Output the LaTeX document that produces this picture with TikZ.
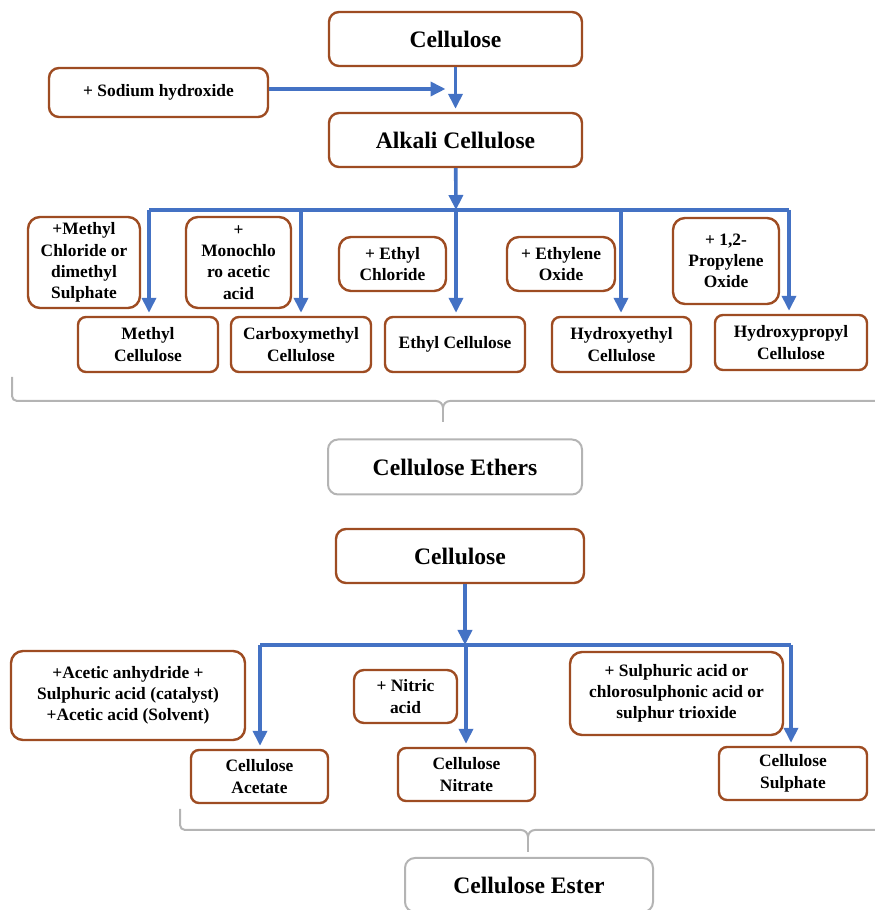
\documentclass[tikz,border=0pt]{standalone}
\usepackage{fontspec}
\setmainfont{Liberation Serif}
\usetikzlibrary{arrows.meta}
\definecolor{boxbrown}{RGB}{158,76,34}
\definecolor{flowblue}{RGB}{68,114,196}
\definecolor{bracegray}{RGB}{180,180,180}
\begin{document}
\begin{tikzpicture}[x=0.5pt,y=0.5pt,
  main/.style={draw=boxbrown,line width=1.2pt,rounded corners=5pt,fill=white,
    font=\fontsize{11.8}{14}\selectfont\bfseries,align=center,inner sep=1pt},
  reag/.style={draw=boxbrown,line width=1.2pt,rounded corners=6pt,fill=white,
    font=\fontsize{8.7}{10.6}\selectfont\bfseries,align=center,inner sep=1pt},
  prod/.style={draw=boxbrown,line width=1.2pt,rounded corners=4pt,fill=white,
    font=\fontsize{8.7}{10.8}\selectfont\bfseries,align=center,inner sep=1pt},
  group/.style={draw=bracegray,line width=1pt,rounded corners=5pt,fill=white,
    font=\fontsize{11.8}{14}\selectfont\bfseries,align=center,inner sep=1pt},
  flow/.style={draw=flowblue,line width=1.8pt,-{Triangle[width=7pt,length=7.5pt]}},
  bus/.style={draw=flowblue,line width=1.8pt},
  brace/.style={draw=bracegray,line width=1pt}]
\useasboundingbox (0,0) rectangle (874,910);
%\draw[help lines,step=50] (0,0) grid (874,910);
% ethers
\node[main,minimum width=126.5pt,minimum height=27pt] (cel1) at (455.5,871) {Cellulose};
\node[main,minimum width=109.5pt,minimum height=24.5pt,font=\fontsize{8.7}{10.6}\selectfont\bfseries] (naoh) at (158.5,817.5) {+ Sodium hydroxide};
\node[main,minimum width=126.5pt,minimum height=27pt] (alk) at (455.5,770) {Alkali Cellulose};
\draw[flow,shorten >=1.5pt] (cel1) -- (alk);
\draw[flow,shorten >=5pt] (naoh.east |- 0,821) -- (cel1.south |- 0,821);
\coordinate (b1) at (456,700);
\draw[flow] (alk) -- (b1);
\node[reag,minimum width=56pt,minimum height=45.5pt] (r1) at (84,647.5) {+Methyl\\Chloride or\\dimethyl\\Sulphate};
\node[reag,minimum width=52.5pt,minimum height=45.5pt] (r2) at (238.5,647.5) {+\\Monochlo\\ro acetic\\acid};
\node[reag,minimum width=53.5pt,minimum height=27pt] (r3) at (392.5,646) {+ Ethyl\\Chloride};
\node[reag,minimum width=54pt,minimum height=27pt] (r4) at (561,646) {+ Ethylene\\Oxide};
\node[reag,minimum width=53pt,minimum height=43pt] (r5) at (726,649) {+ 1,2-\\Propylene\\Oxide};
\node[prod,minimum width=70pt,minimum height=27.5pt] (p1) at (148,565.5) {Methyl\\Cellulose};
\node[prod,minimum width=70pt,minimum height=27.5pt] (p2) at (301,565.5) {Carboxymethyl\\Cellulose};
\node[prod,minimum width=70pt,minimum height=27.5pt] (p3) at (455,565.5) {Ethyl Cellulose};
\node[prod,minimum width=69.5pt,minimum height=27.5pt] (p4) at (621.5,565.5) {Hydroxyethyl\\Cellulose};
\node[prod,minimum width=76pt,minimum height=27.5pt] (p5) at (791,567.5) {Hydroxypropyl\\Cellulose};
\draw[bus] (149,700) -- (789,700);
\foreach \p/\x in {p1/149,p2/301,p3/456,p4/621,p5/789}
  \draw[flow,shorten >=1.5pt] (\x,700) -- (\p.north -| \x,0);
\draw[brace] (12,533) -- (12,514) to[out=-90,in=180] (17,509) -- (436,509)
  to[out=0,in=90] (443,502) to[out=90,in=180] (450,509) -- (890,509);
\draw[brace] (443,502) -- (443,488);
\node[group,minimum width=127pt,minimum height=27.5pt] (ethers) at (455,443) {Cellulose Ethers};
% esters
\node[main,minimum width=124pt,minimum height=27pt] (cel2) at (460,354) {Cellulose};
\coordinate (b2) at (465,265);
\draw[flow] (cel2.south -| b2) -- (b2);
\node[reag,minimum width=117pt,minimum height=44.5pt] (r6) at (128,214.5) {+Acetic anhydride +\\Sulphuric acid (catalyst)\\+Acetic acid (Solvent)};
\node[reag,minimum width=51.5pt,minimum height=26.5pt,rounded corners=5pt] (r7) at (405.5,213.5) {+ Nitric\\acid};
\node[reag,minimum width=106.5pt,minimum height=41.5pt] (r8) at (676.5,216.5) {+ Sulphuric acid or\\chlorosulphonic acid or\\sulphur trioxide};
\node[prod,minimum width=68.5pt,minimum height=26.5pt] (p6) at (259.5,133.5) {Cellulose\\Acetate};
\node[prod,minimum width=68.5pt,minimum height=26.5pt] (p7) at (466.5,135.5) {Cellulose\\Nitrate};
\node[prod,minimum width=74pt,minimum height=26.5pt] (p8) at (793,136.5) {Cellulose\\Sulphate};
\draw[bus] (260,265) -- (791,265);
\foreach \p/\x in {p6/260,p7/466,p8/791}
  \draw[flow,shorten >=1.5pt] (\x,265) -- (\p.north -| \x,0);
\draw[brace] (180,101) -- (180,85) to[out=-90,in=180] (185,80) -- (521,80)
  to[out=0,in=90] (528,73) to[out=90,in=180] (535,80) -- (890,80);
\draw[brace] (528,73) -- (528,58);
\node[group,minimum width=124pt,minimum height=27pt] (ester) at (529,25) {Cellulose Ester};
\end{tikzpicture}
\end{document}
